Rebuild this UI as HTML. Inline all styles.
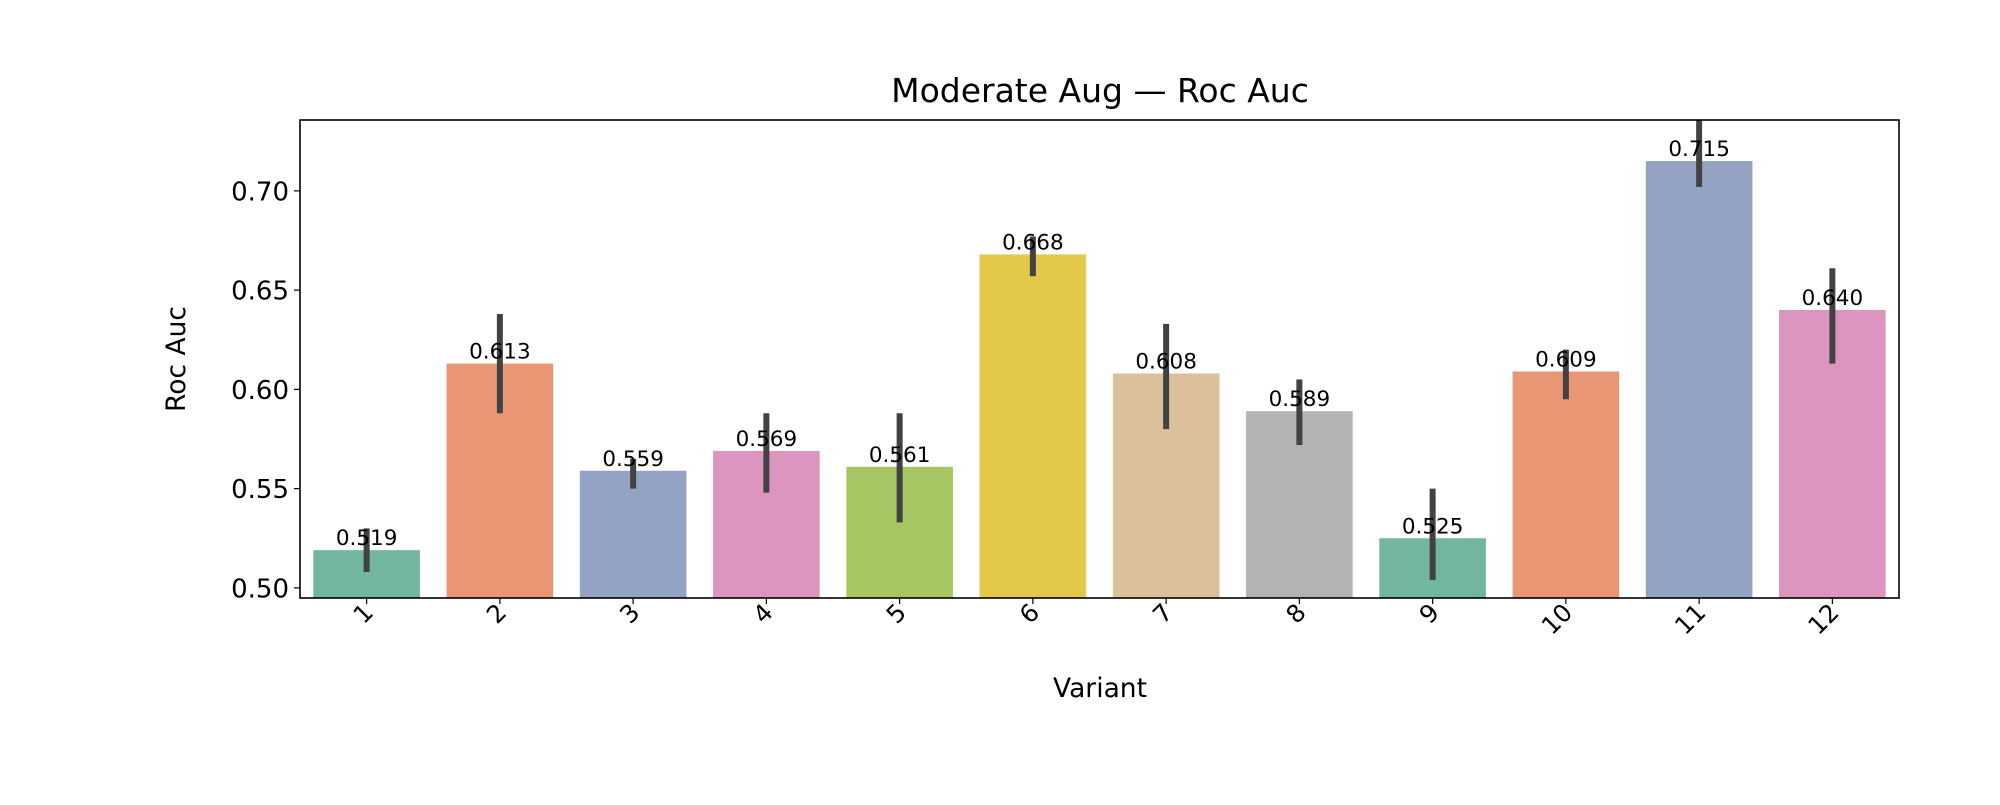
<!DOCTYPE html>
<html><head><meta charset="utf-8"><style>
body{margin:0;background:#fff;}
svg text{font-family:"DejaVu Sans","Liberation Sans",sans-serif;fill:#000;}
</style></head><body>
<svg id="chart" width="2000" height="800" xmlns="http://www.w3.org/2000/svg">
<text x="1100" y="102" font-size="33" text-anchor="middle">Moderate Aug — Roc Auc</text>
<g id="plot"></g>
<text x="1100" y="697" font-size="26.5" text-anchor="middle">Variant</text>
<text transform="translate(185,359) rotate(-90)" font-size="26.5" text-anchor="middle">Roc Auc</text>
</svg>
<script>
const categories=["1","2","3","4","5","6","7","8","9","10","11","12"];
const values=[0.519,0.613,0.559,0.569,0.561,0.668,0.608,0.589,0.525,0.609,0.715,0.640];
const errLow=[0.508,0.588,0.550,0.548,0.533,0.657,0.580,0.572,0.504,0.595,0.702,0.613];
const errHigh=[0.530,0.638,0.565,0.588,0.588,0.677,0.633,0.605,0.550,0.620,0.740,0.661];
const yTicks=[0.50,0.55,0.60,0.65,0.70];
const colors=["#72b6a1","#e99674","#94a3c3","#dc95bf","#a5c663","#e3c84a","#dac19c","#b3b3b3","#72b6a1","#e99674","#94a3c3","#dc95bf"];
const L=300,R=1899,T=120,B=598,yMin=0.4949,yMax=0.7357;
const NS="http://www.w3.org/2000/svg";
const g=document.getElementById('plot');
const y=v=>B-(v-yMin)/(yMax-yMin)*(B-T);
const step=(R-L)/categories.length;
const x=i=>L+(i+0.5)*step;
function mk(t,a){const e=document.createElementNS(NS,t);for(const k in a)e.setAttribute(k,a[k]);g.appendChild(e);return e;}
categories.forEach((c,i)=>{
  const bw=step*0.8;
  const r=mk('rect',{x:x(i)-bw/2,y:y(values[i]),width:bw,height:B-y(values[i]),fill:colors[i]});
  
  
  const e=mk('line',{x1:x(i),x2:x(i),y1:y(Math.min(errHigh[i],yMax)),y2:y(errLow[i]),stroke:'#424242','stroke-width':6});
  
  
  const t=mk('text',{x:x(i),y:y(values[i])-5,'font-size':21.5,'text-anchor':'middle'});
  t.textContent=values[i].toFixed(3);
  
  
  mk('line',{x1:x(i),x2:x(i),y1:B,y2:B+6,stroke:'#000','stroke-width':1.2});
  const tl=mk('text',{transform:`translate(${x(i)+8},${B+16}) rotate(-45)`,'font-size':24.5,'text-anchor':'end'});
  tl.textContent=c;
  
  
});
yTicks.forEach(v=>{
  mk('line',{x1:L-6,x2:L,y1:y(v),y2:y(v),stroke:'#000','stroke-width':1.2});
  const t=mk('text',{x:L-11,y:y(v)+9.5,'font-size':26,'text-anchor':'end'});
  t.textContent=v.toFixed(2);
  
  
});
const f=mk('rect',{x:L,y:T,width:R-L,height:B-T,fill:'none',stroke:'#000','stroke-width':1.6});


</script>
</body></html>
